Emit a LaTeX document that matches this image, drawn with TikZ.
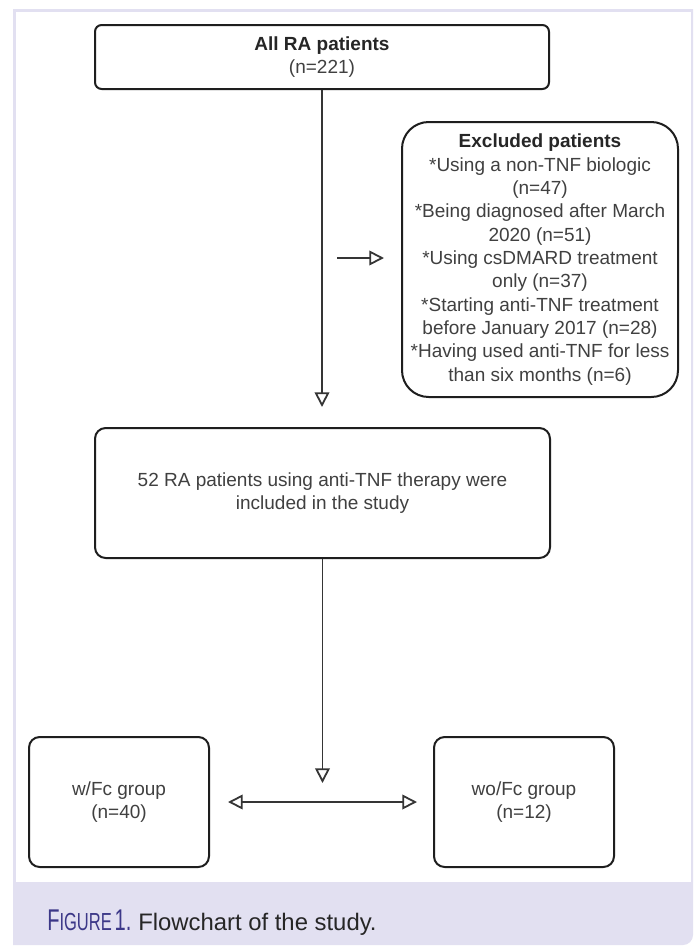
\documentclass[tikz,border=0pt]{standalone}
\usepackage{fontspec}
\setmainfont{Liberation Sans}
\usetikzlibrary{arrows.meta}
\newdimen\pxu \pxu=0.75pt
\definecolor{lav}{HTML}{E2E0F1}
\definecolor{capblue}{HTML}{3C3888}
\definecolor{txtgray}{HTML}{404040}
\definecolor{linegray}{HTML}{1E1E1E}
\begin{document}
\begin{tikzpicture}[x=0.75pt,y=-0.75pt,
  box/.style={draw=linegray, line width=1.5pt, fill=white, inner sep=0pt, align=center,
    text=txtgray, font=\fontsize{14.25pt}{17.5pt}\selectfont},
  tip/.style={-{Triangle[open,length=11pt,width=11pt]}},
  conn/.style={draw=linegray!90!white, line width=1.35pt, tip},
  lbl/.style={inner sep=0pt, anchor=base west}]
\useasboundingbox (0,0) rectangle (696,947);
% frame
\fill[white] (0,0) rectangle (696,947);
\fill[lav] (13,9) -- (693,9) [rounded corners=7.5pt] -- (693,945) [sharp corners] -- (13,945) -- cycle;
\fill[white] (16,12) rectangle (691,882);
% boxes
\node[box, rounded corners=5pt, minimum width=454\pxu, minimum height=64\pxu] (all) at (322,57)
  {{\color{black!85}\bfseries All RA patients}\\(n=221)};
\node[box, rounded corners=20pt, minimum width=276\pxu, minimum height=275\pxu] (excl) at (540,259.5)
  {{\color{black!85}\bfseries Excluded patients}\\*Using a non-TNF biologic\\(n=47)\\*Being diagnosed after March\\2020 (n=51)\\*Using csDMARD treatment\\only (n=37)\\*Starting anti-TNF treatment\\before January 2017 (n=28)\\*Having used anti-TNF for less\\than six months (n=6)};
\node[box, rounded corners=8pt, minimum width=455\pxu, minimum height=130\pxu] (incl) at (322.5,493)
  {52 RA patients using anti-TNF therapy were\\included in the study};
\node[box, rounded corners=8pt, minimum width=180\pxu, minimum height=130\pxu] (wfc) at (119,802)
  {w/Fc group\\(n=40)};
\node[box, rounded corners=8pt, minimum width=180\pxu, minimum height=130\pxu] (wofc) at (524,802)
  {wo/Fc group\\(n=12)};
% connectors
\coordinate (exs) at (337,258);
\coordinate (split) at (322.5,783);
\draw[conn, shorten >=20\pxu] (all.south) -- (all.south |- incl.north);
\draw[conn, shorten >=17\pxu] (exs) -- (excl.west |- exs);
\draw[conn] (incl.south) -- (split);
\draw[conn, {Triangle[open,length=11pt,width=11pt]}-{Triangle[open,length=11pt,width=11pt]},
  shorten <=18\pxu, shorten >=16\pxu] (wfc.east) -- (wofc.west);
% caption
\node[lbl, text=capblue] (figlbl) at (47,930)
  {\scalebox{0.67}[1]{\fontsize{22.5pt}{24pt}\selectfont F\fontsize{18.5pt}{24pt}\selectfont IGURE\,\fontsize{22.5pt}{24pt}\selectfont 1.}};
\node[lbl, text=black!85] (figtxt) at (138,930)
  {\fontsize{17.9pt}{22pt}\selectfont Flowchart of the study.};
\end{tikzpicture}
\end{document}
